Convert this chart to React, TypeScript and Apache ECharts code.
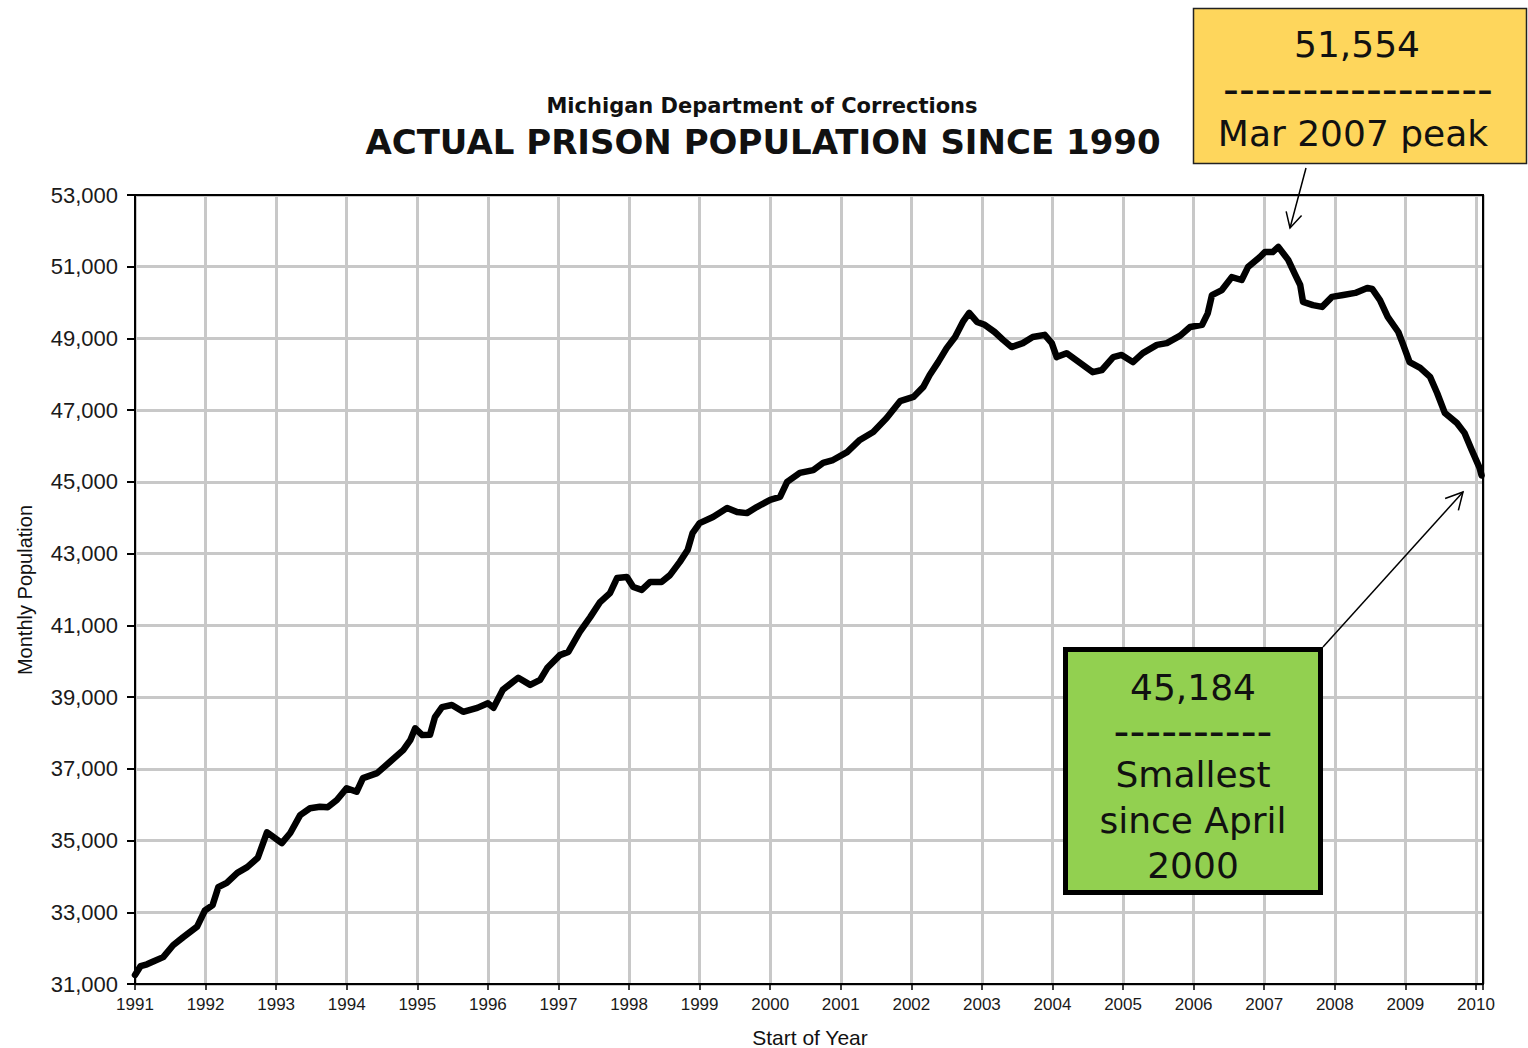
import React, { useEffect, useRef } from "react";
import * as echarts from "echarts";

// Start-of-year (decimal) positions of the monthly readings
const years = [
  1991.0, 1991.08, 1991.17, 1991.25, 1991.4, 1991.54, 1991.68, 1991.88, 1991.99,
  1992.1, 1992.18, 1992.3, 1992.45, 1992.59, 1992.74, 1992.87, 1992.96,
  1993.08, 1993.2, 1993.34, 1993.48, 1993.62, 1993.73, 1993.86,
  1994.0, 1994.14, 1994.23, 1994.43, 1994.61, 1994.8, 1994.9, 1994.97,
  1995.07, 1995.18, 1995.25, 1995.35, 1995.49, 1995.65, 1995.85,
  1996.0, 1996.08, 1996.21, 1996.43, 1996.6, 1996.74, 1996.84,
  1997.02, 1997.14, 1997.3, 1997.45, 1997.59, 1997.73, 1997.83, 1997.97,
  1998.06, 1998.18, 1998.3, 1998.46, 1998.58, 1998.72, 1998.83, 1998.9,
  1999.0, 1999.19, 1999.39, 1999.53, 1999.67, 1999.81,
  2000.0, 2000.14, 2000.24, 2000.42, 2000.61, 2000.75, 2000.89,
  2001.09, 2001.27, 2001.46, 2001.65, 2001.84,
  2002.03, 2002.17, 2002.26, 2002.38, 2002.5, 2002.62, 2002.73, 2002.82, 2002.93,
  2003.04, 2003.18, 2003.3, 2003.42, 2003.58, 2003.72, 2003.89, 2003.99,
  2004.06, 2004.2, 2004.39, 2004.57, 2004.7, 2004.86, 2004.98,
  2005.14, 2005.28, 2005.48, 2005.62, 2005.81, 2005.95,
  2006.12, 2006.2, 2006.26, 2006.4, 2006.54, 2006.68, 2006.77, 2006.94,
  2007.01, 2007.12, 2007.2, 2007.34, 2007.44, 2007.51, 2007.55, 2007.69, 2007.82, 2007.96,
  2008.12, 2008.29, 2008.46, 2008.53, 2008.64, 2008.75, 2008.9, 2008.97,
  2009.06, 2009.21, 2009.35, 2009.45, 2009.56, 2009.73, 2009.84, 2009.94,
  2010.05, 2010.08,
];

// Monthly prison population
const population = [
  31250, 31500, 31550, 31620, 31750, 32080, 32300, 32600, 33050,
  33200, 33700, 33820, 34100, 34260, 34520, 35230, 35100,
  34930, 35210, 35710, 35900, 35940, 35930, 36130,
  36460, 36360, 36740, 36880, 37190, 37520, 37800, 38130,
  37940, 37950, 38440, 38720, 38780, 38590, 38700,
  38830, 38700, 39200, 39540, 39340, 39480, 39810,
  40170, 40260, 40810, 41230, 41650, 41900, 42320, 42350,
  42070, 41990, 42210, 42210, 42400, 42770, 43100, 43570,
  43850, 44020, 44270, 44160, 44130, 44300,
  44500, 44580, 45000, 45250, 45330, 45530, 45610,
  45830, 46170, 46390, 46780, 47250,
  47370, 47650, 47980, 48340, 48730, 49040, 49460, 49710, 49460,
  49380, 49180, 48960, 48760, 48870, 49040, 49100, 48870,
  48480, 48590, 48320, 48060, 48120, 48480, 48540,
  48340, 48590, 48820, 48870, 49080, 49320,
  49380, 49700, 50210, 50350, 50710, 50630, 50990, 51270,
  51410, 51410, 51554, 51190, 50770, 50490, 50020, 49930, 49880, 50160,
  50210, 50270, 50410, 50380, 50070, 49600, 49180, 48820,
  48340, 48180, 47930, 47480, 46920, 46640, 46360, 45890,
  45400, 45184,
];

const yMin = 31000;
const yMax = 53000;
const yStep = 2000;
const xMin = 1991;
const xMax = 2010.1;

const titleTop = "Michigan Department of Corrections";
const titleMain = "ACTUAL PRISON POPULATION SINCE 1990";
const yName = "Monthly Population";
const xName = "Start of Year";
const peakLines = ["51,554", "-----------------", "Mar 2007 peak"];
const lowLines = ["45,184", "----------", "Smallest", "since April", "2000"];

const GRID = { left: 135, top: 195, right: 1483, bottom: 984 };

function arrow(x1: number, y1: number, x2: number, y2: number, head: number, deg: number) {
  const dx = x2 - x1;
  const dy = y2 - y1;
  const len = Math.hypot(dx, dy);
  const ux = dx / len;
  const uy = dy / len;
  const a = (deg * Math.PI) / 180;
  const c = Math.cos(a);
  const s = Math.sin(a);
  const p1 = [x2 - head * (ux * c - uy * s), y2 - head * (ux * s + uy * c)];
  const p2 = [x2 - head * (ux * c + uy * s), y2 - head * (-ux * s + uy * c)];
  return [
    { type: "line", z: 120, silent: true, shape: { x1, y1, x2, y2 }, style: { stroke: "#000", lineWidth: 1.5 } },
    { type: "polyline", z: 120, silent: true, shape: { points: [p1, [x2, y2], p2] }, style: { stroke: "#000", fill: null, lineWidth: 1.5 } },
  ];
}

function txt(text: string, x: number, y: number, font: string, extra: any = {}) {
  return {
    type: "text",
    z: 130,
    silent: true,
    x,
    y,
    ...extra,
    style: {
      text,
      x: 0,
      y: 0,
      font,
      fill: "#111",
      align: "center",
      verticalAlign: "middle",
      textAlign: "center",
      textVerticalAlign: "middle",
    },
  };
}

export default function App() {
  const ref = useRef<HTMLDivElement>(null);

  useEffect(() => {
    if (!ref.current) return;
    const chart = echarts.init(ref.current, null, { renderer: "svg" });
    const data = years.map((y, i) => [y, population[i]]);
    const boxFont = '36px "DejaVu Sans"';
    const dashFont = '44px "DejaVu Sans"';

    const graphic: any[] = [
      txt(titleTop, 762, 106, 'bold 21px "DejaVu Sans"'),
      txt(titleMain, 763, 142, 'bold 34px "DejaVu Sans"'),
      txt(yName, 25, 590, '20px "Liberation Sans"', { rotation: Math.PI / 2 }),
      txt(xName, 810, 1037, '21px "Liberation Sans"'),
      {
        type: "rect",
        z: 110,
        silent: true,
        shape: { x: GRID.left, y: GRID.top, width: GRID.right - GRID.left, height: GRID.bottom - GRID.top },
        style: { fill: null, stroke: "#000", lineWidth: 2 },
      },
      // peak callout
      {
        type: "rect",
        z: 115,
        silent: true,
        shape: { x: 1193.5, y: 8.5, width: 333, height: 155 },
        style: { fill: "#FED65C", stroke: "#222", lineWidth: 1.5 },
      },
      txt(peakLines[0], 1357, 44, boxFont),
      txt(peakLines[1], 1358, 88, dashFont),
      txt(peakLines[2], 1353, 133, boxFont),
      ...arrow(1306, 168, 1290, 228, 17, 28),
      // low callout
      {
        type: "rect",
        z: 115,
        silent: true,
        shape: { x: 1065.5, y: 649.5, width: 255, height: 243 },
        style: { fill: "#92D050", stroke: "#000", lineWidth: 5 },
      },
      txt(lowLines[0], 1193, 687, boxFont),
      txt(lowLines[1], 1193, 730, dashFont),
      txt(lowLines[2], 1193, 774, boxFont),
      txt(lowLines[3], 1193, 820, boxFont),
      txt(lowLines[4], 1193, 865, boxFont),
      ...arrow(1323, 647, 1463, 492, 19, 28),
    ];

    chart.setOption({
      animation: false,
      backgroundColor: "#fff",
      grid: {
        left: GRID.left,
        top: GRID.top,
        right: 1528 - GRID.right,
        bottom: 1048 - GRID.bottom,
        containLabel: false,
      },
      xAxis: {
        type: "value",
        min: xMin,
        max: xMax,
        interval: 1,
        axisLine: { show: true, onZero: false, lineStyle: { color: "#000", width: 2 } },
        axisTick: { show: true, length: 6, lineStyle: { color: "#000", width: 1.5 } },
        axisLabel: {
          margin: 12,
          color: "#1a1a1a",
          fontFamily: "Liberation Sans",
          fontSize: 17,
          formatter: (v: number) => (Math.abs(v - Math.round(v)) < 1e-6 ? String(Math.round(v)) : ""),
        },
        splitLine: { show: true, lineStyle: { color: "#C8C8C8", width: 3 } },
      },
      yAxis: {
        type: "value",
        min: yMin,
        max: yMax,
        interval: yStep,
        axisLine: { show: true, lineStyle: { color: "#000", width: 2 } },
        axisTick: { show: true, length: 8, lineStyle: { color: "#000", width: 2 } },
        axisLabel: {
          margin: 17,
          color: "#1a1a1a",
          fontFamily: "Liberation Sans",
          fontSize: 22,
          formatter: (v: number) => v.toLocaleString("en-US"),
        },
        splitLine: { show: true, lineStyle: { color: "#C8C8C8", width: 3 } },
      },
      series: [
        {
          type: "line",
          data,
          showSymbol: false,
          symbol: "none",
          lineStyle: { color: "#000", width: 6.5, join: "round", cap: "round" },
          z: 5,
        },
      ],
      graphic,
    });

    return () => chart.dispose();
  }, []);

  return (
    <div
      ref={ref}
      style={{ position: "fixed", left: 0, top: 0, width: "1528px", height: "1048px", background: "#fff" }}
    />
  );
}
